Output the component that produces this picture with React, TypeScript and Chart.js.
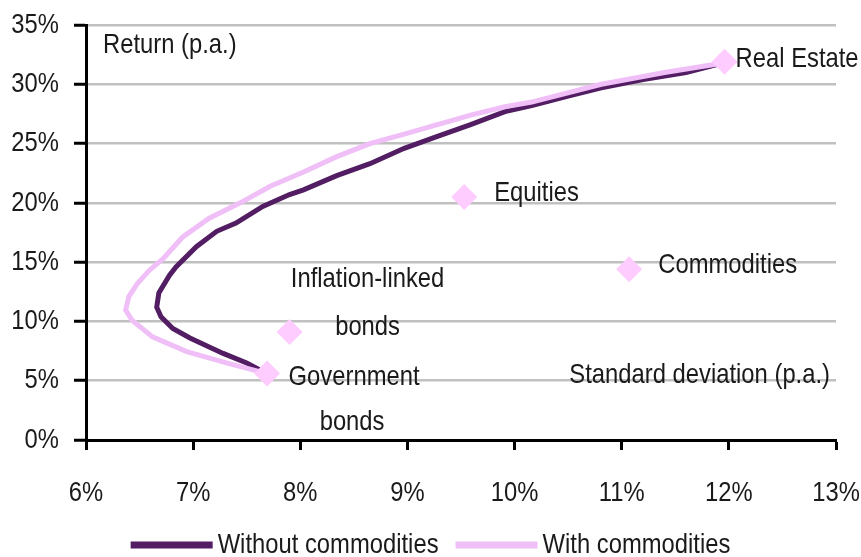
import React, { useEffect, useRef } from "react";
import { Chart, registerables } from "chart.js";

Chart.register(...registerables);

// Efficient frontier without commodities (std dev %, return %)
const withoutX = [7.69, 7.5, 7.28, 6.97, 6.81, 6.7, 6.66, 6.68, 6.78, 6.84, 7.03, 7.22, 7.4, 7.65, 7.9, 8.03, 8.34, 8.65, 8.97, 9.28, 9.59, 9.91, 10.16, 10.5, 10.81, 11.2, 11.6, 11.95];
const withoutY = [5.6, 6.5, 7.3, 8.6, 9.4, 10.4, 11.2, 12.4, 13.9, 14.6, 16.3, 17.6, 18.3, 19.7, 20.7, 21.1, 22.3, 23.3, 24.6, 25.6, 26.6, 27.7, 28.2, 29.0, 29.7, 30.4, 31.0, 31.8];

// Efficient frontier with commodities
const withX = [7.69, 7.31, 6.94, 6.62, 6.43, 6.37, 6.4, 6.48, 6.59, 6.72, 6.9, 7.15, 7.44, 7.72, 8.03, 8.34, 8.65, 8.97, 9.28, 9.59, 9.91, 10.16, 10.81, 11.4, 11.95];
const withY = [5.6, 6.5, 7.45, 8.7, 10.1, 10.96, 12.1, 13.2, 14.3, 15.3, 17.1, 18.7, 20.0, 21.4, 22.6, 23.9, 25.0, 25.8, 26.6, 27.4, 28.1, 28.5, 30.0, 31.0, 31.8];

// Asset classes
const assetNames = ["Real Estate", "Equities", "Commodities", "Inflation-linked bonds", "Government bonds"];
const assetX = [11.96, 9.53, 11.07, 7.9, 7.69];
const assetY = [31.9, 20.5, 14.4, 9.1, 5.6];

const seriesLabels = ["Without commodities", "With commodities"];
const yTicks = [0, 5, 10, 15, 20, 25, 30, 35];
const xTicks = [6, 7, 8, 9, 10, 11, 12, 13];
const yTitle = "Return (p.a.)";
const xTitle = "Standard deviation (p.a.)";

const FONT = '"Liberation Sans", Arial, sans-serif';
const FS = 28;
const SX = 0.85; // horizontal condensing to mimic a narrow face
const TEXT = "#1a1a1a";
const DARK = "#521d62";
const LIGHT = "#f0bff8";
const MARK = "#ffccff";

function txt(ctx: CanvasRenderingContext2D, s: string, x: number, y: number, align: CanvasTextAlign) {
  ctx.save();
  ctx.translate(x, y);
  ctx.scale(SX, 1);
  ctx.textAlign = align;
  ctx.fillText(s, 0, 0);
  ctx.restore();
}

const labelPlugin = {
  id: "labels",
  afterDraw(chart: any) {
    const ctx = chart.ctx as CanvasRenderingContext2D;
    const xs = chart.scales.x;
    const ys = chart.scales.y;
    const ca = chart.chartArea;
    ctx.save();
    ctx.fillStyle = TEXT;
    ctx.font = `${FS}px ${FONT}`;
    ctx.textBaseline = "middle";

    // tick labels
    yTicks.forEach((v) => txt(ctx, v + "%", ca.left - 27, ys.getPixelForValue(v), "right"));
    xTicks.forEach((v) => txt(ctx, v + "%", xs.getPixelForValue(v), ca.bottom + 53, "center"));

    const px = (i: number) => xs.getPixelForValue(assetX[i]);
    const py = (i: number) => ys.getPixelForValue(assetY[i]);
    txt(ctx, assetNames[0], px(0) + 11, py(0) - 2, "left");
    txt(ctx, assetNames[1], px(1) + 30, py(1) - 4, "left");
    txt(ctx, assetNames[2], px(2) + 29, py(2) - 4, "left");
    const ilb = assetNames[3].split(" ");
    txt(ctx, ilb[0], px(3) + 78, py(3) - 53, "center");
    txt(ctx, ilb[1], px(3) + 78, py(3) - 5, "center");
    const gov = assetNames[4].split(" ");
    txt(ctx, gov[0], px(4) + 87, py(4) + 4, "center");
    txt(ctx, gov[1], px(4) + 85, py(4) + 49, "center");
    // axis titles inside plot
    txt(ctx, yTitle, ca.left + 17, ca.top + 20, "left");
    txt(ctx, xTitle, ca.right - 6, ca.bottom - 65, "right");

    // legend
    const sw = 82;
    const gap = 5;
    const between = 17;
    const w0 = ctx.measureText(seriesLabels[0]).width * SX;
    const w1 = ctx.measureText(seriesLabels[1]).width * SX;
    const total = sw + gap + w0 + between + sw + gap + w1;
    let x = (chart.width - total) / 2;
    const ly = 545;
    const colors = [DARK, LIGHT];
    const widths = [w0, w1];
    for (let i = 0; i < 2; i++) {
      ctx.strokeStyle = colors[i];
      ctx.lineWidth = 7;
      ctx.lineCap = "butt";
      ctx.beginPath();
      ctx.moveTo(x, ly);
      ctx.lineTo(x + sw, ly);
      ctx.stroke();
      ctx.fillStyle = TEXT;
      txt(ctx, seriesLabels[i], x + sw + gap, ly, "left");
      x += sw + gap + widths[i] + between;
    }
    ctx.restore();
  },
};

export default function App() {
  const ref = useRef<HTMLCanvasElement>(null);
  useEffect(() => {
    document.body.style.margin = "0";
    const chart = new Chart(ref.current!, {
      type: "scatter",
      data: {
        datasets: [
          {
            label: "Assets",
            data: assetX.map((x, i) => ({ x, y: assetY[i] })),
            pointStyle: "rectRot",
            pointRadius: 13,
            pointBackgroundColor: MARK,
            pointBorderColor: MARK,
            pointBorderWidth: 0,
            showLine: false,
          },
          {
            label: seriesLabels[1],
            data: withX.map((x, i) => ({ x, y: withY[i] })),
            showLine: true,
            borderColor: LIGHT,
            borderWidth: 5,
            pointRadius: 0,
            tension: 0,
          },
          {
            label: seriesLabels[0],
            data: withoutX.map((x, i) => ({ x, y: withoutY[i] })),
            showLine: true,
            borderColor: DARK,
            borderWidth: 5,
            pointRadius: 0,
            tension: 0,
          },
        ],
      },
      options: {
        animation: false,
        responsive: true,
        maintainAspectRatio: false,
        layout: { padding: { top: 25, right: 25, left: 0, bottom: 0 } },
        plugins: { legend: { display: false }, tooltip: { enabled: false } },
        scales: {
          x: {
            type: "linear",
            min: 6,
            max: 13,
            afterBuildTicks: (s: any) => {
              s.ticks = xTicks.map((v) => ({ value: v }));
            },
            afterFit: (s: any) => {
              s.height = 117;
            },
            ticks: { display: false },
            grid: {
              drawOnChartArea: false,
              drawTicks: true,
              tickLength: 10,
              tickColor: "#000",
              tickWidth: 3,
            },
            border: { display: true, color: "#000", width: 3 },
          },
          y: {
            type: "linear",
            min: 0,
            max: 35,
            afterBuildTicks: (s: any) => {
              s.ticks = yTicks.map((v) => ({ value: v }));
            },
            afterFit: (s: any) => {
              s.width = 86;
            },
            ticks: { display: false },
            grid: {
              color: "#c0c0c0",
              lineWidth: 2.5,
              drawTicks: true,
              tickLength: 12,
              tickColor: "#000",
              tickWidth: 3,
            },
            border: { display: true, color: "#000", width: 3 },
          },
        },
      },
      plugins: [labelPlugin],
    });
    return () => chart.destroy();
  }, []);
  return (
    <div style={{ position: "absolute", left: 0, top: 0, width: 861, height: 557, background: "#fff" }}>
      <canvas ref={ref} />
    </div>
  );
}
